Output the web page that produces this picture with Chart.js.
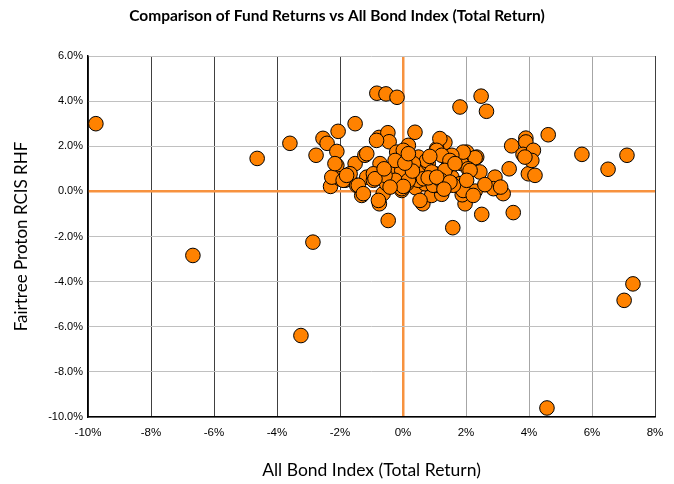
<!DOCTYPE html>
<html>
<head>
<meta charset="utf-8">
<script src="https://cdn.jsdelivr.net/npm/chart.js@4"></script>
<style>
html,body{margin:0;padding:0;background:#fff;}
#wrap{width:674px;height:484px;}
</style>
</head>
<body>
<div id="wrap"><canvas id="c" width="674" height="484"></canvas></div>
<script>
const chartTitle = "Comparison of Fund Returns vs All Bond Index (Total Return)";
const xAxisTitle = "All Bond Index (Total Return)";
const yAxisTitle = "Fairtree Proton RCIS RHF";
const xTicks = [-10, -8, -6, -4, -2, 0, 2, 4, 6, 8];
const yTicks = [-10, -8, -6, -4, -2, 0, 2, 4, 6];

// All Bond Index return (%), per observation
const bondIndexReturns = [
  -9.75, -6.67, -4.63, -3.59, -2.86, -3.24, 4.57, 5.68, 6.51, 7.11,
  7.30, 7.02, 4.61, 3.50, 2.50, 1.58, -0.47, -0.83, -0.54, -0.19,
  -1.52, -2.06, -2.54, -2.41, -2.76, -2.10, -0.76, -0.48, -0.44, 0.38,
  2.48, 1.81, 2.65, 3.45, 3.90, 3.90, 3.81, 1.33, 1.07, 1.17,
  2.02, 2.34, 0.40, 0.63, 0.91, 1.23, 1.97, 1.88, 2.29, 3.37,
  3.98, 2.92, 3.18, 2.87, 3.10, 2.44, 2.29, 1.39, 1.55, 1.81,
  0.54, 0.80, 1.02, 0.70, 1.02, 1.44, 1.86, 2.07, 1.91, 1.55,
  1.07, 4.14, 4.09, 3.87, 4.19, 2.13, 1.91, 2.23, -2.10, -2.30,
  -1.70, -1.84, -2.00, -1.52, -1.31, -1.15, -1.21, -0.73, -0.75, -0.75,
  -0.63, -0.36, -0.04, -0.04, -0.52, 0.22, -0.10, -0.94, -1.47, -0.25,
  0.49, 0.12, 0.17, -0.20, 0.01, 0.49, 0.75, 1.23, 1.49, -0.57,
  0.33, 0.91, 1.33, 1.65, 0.65, 0.17, -0.04, 0.96, 1.60, 0.54,
  -0.94, -0.25, -2.26, -1.90, -1.68, -1.15, -1.42, -1.26, -0.78, -0.89,
  -0.84, -2.16, 0.80, 2.60, 1.20, -0.60, 0.30, 0.06, 0.01, 1.49,
  2.02, 1.07, -1.79, -0.41, 1.30, 0.85, 0.17
];
// Fund return (%), same order
const fundReturns = [
  3.00, -2.84, 1.46, 2.13, -2.25, -6.39, -9.60, 1.64, 0.98, 1.60,
  -4.10, -4.83, 2.51, -0.94, -1.02, -1.61, -1.29, 4.35, 4.32, 4.17,
  3.00, 2.66, 2.35, 2.13, 1.60, 1.77, 2.39, 2.60, 2.20, 2.62,
  4.22, 3.74, 3.55, 2.02, 2.36, 2.19, 1.64, 2.17, 1.89, 2.34,
  1.74, 1.52, 0.16, -0.55, -0.18, -0.13, -0.55, -0.15, 0.01, 1.00,
  0.78, 0.63, -0.10, 0.12, 0.19, 0.86, 1.49, 0.93, 0.63, 0.34,
  1.00, 1.23, 0.78, 0.34, 0.27, 1.15, 1.23, 1.00, 1.74, 1.60,
  1.82, 1.82, 1.37, 1.52, 0.71, 0.93, 0.04, -0.18, 1.15, 0.22,
  0.75, 0.49, 0.56, 1.23, -0.18, 0.63, 1.60, 1.23, 0.71, -0.55,
  -0.10, 0.86, 0.93, 0.04, 0.34, 1.45, 1.60, 0.49, 0.27, 0.49,
  0.49, 0.34, 2.04, 1.74, 1.82, 1.52, 1.37, 1.60, 1.37, 0.71,
  1.23, 0.86, 0.93, 1.23, 0.56, 0.49, 0.12, 0.27, 0.27, -0.40,
  0.78, 1.37, 0.63, 0.49, 0.78, 1.67, 0.27, -0.10, -0.40, 0.56,
  2.26, 1.23, 0.60, 0.30, 0.50, 1.00, 0.90, 1.25, 0.22, 0.41,
  0.49, 0.63, 0.71, 0.19, 0.10, 1.55, 1.67
];

const points = bondIndexReturns.map((x, i) => ({ x: x, y: fundReturns[i] }));

const ORANGE = '#ff8200';
const ZERO = '#f7923f';

new Chart(document.getElementById('c'), {
  type: 'scatter',
  data: {
    datasets: [{
      label: 'Fund vs Index',
      data: points,
      backgroundColor: ORANGE,
      borderColor: '#000000',
      borderWidth: 1,
      pointRadius: 7.3,
      pointHoverRadius: 7.3
    }]
  },
  options: {
    responsive: false,
    animation: false,
    devicePixelRatio: 1,
    layout: { padding: 0 },
    plugins: {
      legend: { display: false },
      tooltip: { enabled: false },
      title: {
        display: true,
        text: chartTitle,
        color: '#000',
        font: { family: 'Lato', size: 15.5, weight: 'bold' },
        padding: { top: 7, bottom: 30.4 }
      }
    },
    scales: {
      x: {
        type: 'linear',
        min: -10, max: 8,
        afterBuildTicks: s => { s.ticks = xTicks.map(v => ({ value: v })); },
        afterFit: s => { s.height = 67; },
        ticks: {
          color: '#000',
          font: { family: 'Liberation Sans', size: 11.5 },
          padding: 9,
          maxRotation: 0,
          callback: v => v + '%'
        },
        grid: {
          drawTicks: false,
          color: ctx => {
            const v = ctx.tick ? ctx.tick.value : 0;
            if (v === 0) return ZERO;
            if (v < 0 || v === 8) return '#404040';
            return '#a6a6a6';
          },
          lineWidth: ctx => (ctx.tick && ctx.tick.value === 0) ? 2.5 : 1
        },
        border: { display: true, color: '#000', width: 1.5 },
        title: {
          display: true,
          text: xAxisTitle,
          color: '#000',
          font: { family: 'Lato', size: 17.5 },
          padding: { top: 4, bottom: 3.5 }
        }
      },
      y: {
        type: 'linear',
        min: -10, max: 6,
        afterBuildTicks: s => { s.ticks = yTicks.map(v => ({ value: v })); },
        afterFit: s => { s.width = 88; },
        ticks: {
          color: '#000',
          font: { family: 'Liberation Sans', size: 11 },
          padding: 5,
          callback: v => v.toFixed(1) + '%'
        },
        grid: {
          drawTicks: false,
          color: ctx => (ctx.tick && ctx.tick.value === 0) ? ZERO : '#c0c0c0',
          lineWidth: ctx => (ctx.tick && ctx.tick.value === 0) ? 2.5 : 1
        },
        border: { display: true, color: '#000', width: 1.5 },
        title: {
          display: true,
          text: yAxisTitle,
          color: '#000',
          font: { family: 'Lato', size: 17 },
          padding: { top: 11.8, bottom: 4 }
        }
      },
      yRight: {
        type: 'linear',
        position: 'right',
        display: true,
        min: -10, max: 6,
        afterFit: s => { s.width = 19; },
        grid: { display: false, drawOnChartArea: false },
        ticks: { display: false },
        border: { display: false },
        title: { display: false }
      }
    }
  }
});
</script>
</body>
</html>
